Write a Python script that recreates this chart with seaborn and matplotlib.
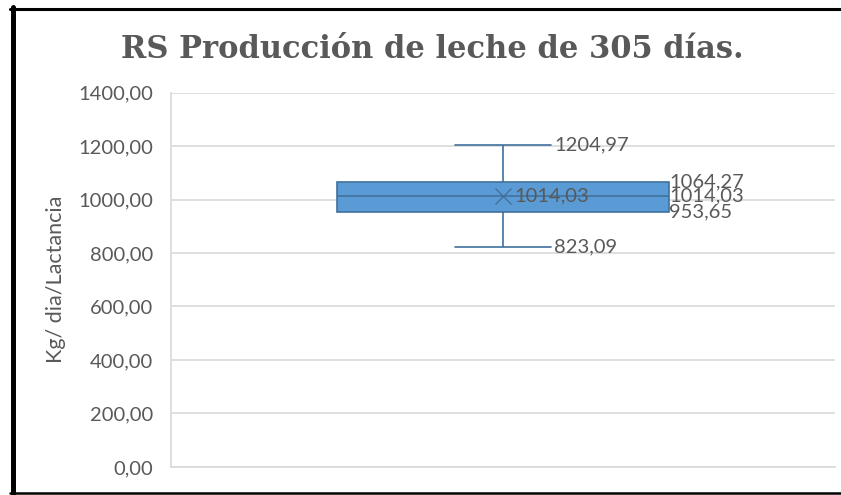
import numpy as np
import pandas as pd
import matplotlib
matplotlib.use("Agg")
import matplotlib.pyplot as plt
import seaborn as sns
from matplotlib.lines import Line2D

# five-number summary (min, Q1, median, Q3, max)
box_values = [823.09, 953.65, 1014.03, 1064.27, 1204.97]
mean_value = 1014.03
y_ticks = [0, 200, 400, 600, 800, 1000, 1200, 1400]

title = "RS Producción de leche de 305 días."
y_label = "Kg/ dia/Lactancia"

fill_blue = "#5B9BD5"
edge_blue = "#41719C"
text_grey = "#595959"
grid_grey = "#D9D9D9"

sns.set_theme(style="white")
plt.rcParams['font.family'] = ['Lato', 'DejaVu Sans']

df = pd.DataFrame({"grupo": "RS", "kg": box_values})

fig = plt.figure(figsize=(8.41, 4.95), dpi=100)
ax = fig.add_axes([0.2033, 0.0566, 0.7896, 0.7565])

sns.boxplot(data=df, x="grupo", y="kg", ax=ax, width=0.5, whis=1.5,
            color=fill_blue, linecolor=edge_blue, linewidth=1.2,
            saturation=1, showfliers=False)

# caps are shorter than the seaborn default
for line in ax.lines:
    yd = np.asarray(line.get_ydata(), dtype=float)
    if len(yd) == 2 and yd[0] == yd[1] and yd[0] in (box_values[0], box_values[-1]):
        line.set_xdata([-0.073, 0.073])

ax.plot([0], [mean_value], marker="x", markersize=12, color=edge_blue,
        markeredgewidth=1.0, linestyle="none")

ax.set_ylim(0, 1400)
ax.set_xlim(-0.5, 0.5)
ax.set_yticks(y_ticks)
ax.set_yticklabels([f"{v:.2f}".replace(".", ",") for v in y_ticks])
ax.set_xticks([])
ax.set_xlabel("")
ax.set_ylabel(y_label, color=text_grey, fontsize=15.5, labelpad=9)
ax.tick_params(axis="y", colors=text_grey, labelsize=14.5, length=0, pad=13)
ax.yaxis.grid(True, color=grid_grey, linewidth=1.2)
ax.set_axisbelow(True)
for side in ["top", "right"]:
    ax.spines[side].set_visible(False)
for side in ["left", "bottom"]:
    ax.spines[side].set_color(grid_grey)
    ax.spines[side].set_linewidth(1.2)

# data labels
lbl = dict(color=text_grey, fontsize=14.5, va="center", ha="left")
fmt = lambda v: f"{v:.2f}".replace(".", ",")
ax.text(0.077, box_values[-1], fmt(box_values[-1]), **lbl)
ax.text(0.077, box_values[0], fmt(box_values[0]), **lbl)
ax.text(0.017, mean_value, fmt(mean_value), **lbl)
ax.text(0.25, box_values[3], fmt(box_values[3]), **lbl)
ax.text(0.25, box_values[2], fmt(box_values[2]), **lbl)
ax.text(0.25, box_values[1], fmt(box_values[1]), **lbl)

fig.text(0.514, 0.9, title, ha="center", va="center", fontsize=22,
         fontweight="bold", color=text_grey, family=["DejaVu Serif"])

# black frame around the chart (top, left, bottom)
fig.add_artist(Line2D([10 / 841, 1], [1 - 8.5 / 495] * 2, color="black", lw=2.2,
                      transform=fig.transFigure))
fig.add_artist(Line2D([12.5 / 841] * 2, [1 - 7 / 495, 1 - 494 / 495], color="black",
                      lw=3.6, transform=fig.transFigure))
fig.add_artist(Line2D([10 / 841, 1], [1 - 493 / 495] * 2, color="black", lw=1.8,
                      transform=fig.transFigure))

fig.savefig("out.png", dpi=100)
